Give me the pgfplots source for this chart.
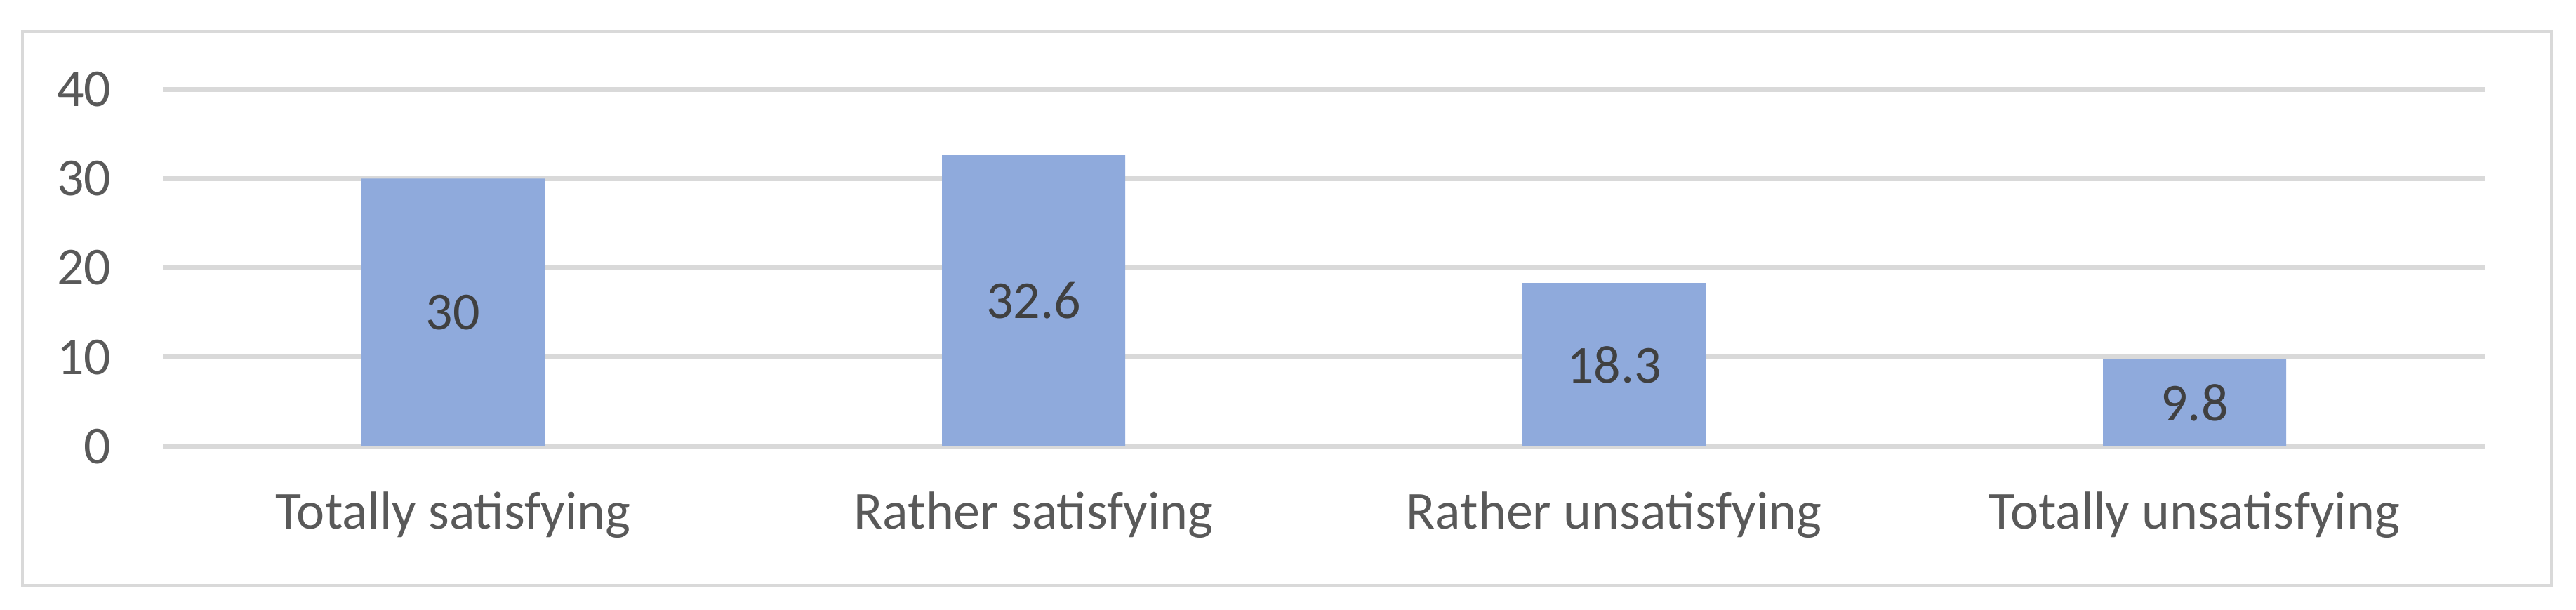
\documentclass[border=0pt]{standalone}
\usepackage{fontspec}
\setmainfont{Carlito}
\usepackage{pgfplots}
\pgfplotsset{compat=1.18}
\definecolor{barblue}{HTML}{8FAADC}
\definecolor{gridgray}{HTML}{D9D9D9}
\definecolor{ticktext}{HTML}{595959}
\definecolor{labeltext}{HTML}{404040}
\begin{document}
\begin{tikzpicture}[font=\fontsize{15.2}{18}\selectfont]
\path[use as bounding box] (0,0) rectangle (734pt,173.8pt);
\draw[gridgray, line width=0.9pt] (6.4pt,7.0pt) rectangle (727pt,164.8pt);
\begin{axis}[
  at={(46.4pt,46.6pt)}, anchor=south west,
  scale only axis, width=661.6pt, height=101.8pt,
  xmin=-0.5, xmax=3.5, ymin=0, ymax=40,
  ytick={0,10,20,30,40},
  xtick={0,1,2,3},
  xticklabels={Totally satisfying, Rather satisfying, Rather unsatisfying, Totally unsatisfying},
  axis line style={draw=none},
  major tick length=0pt,
  tick style={draw=none},
  ymajorgrids, grid style={gridgray, line width=1.4pt},
  /pgf/number format/assume math mode=true,
  yticklabel style={anchor=east, inner sep=0pt, xshift=-14.5pt, text=ticktext},
  xticklabel style={anchor=base, inner sep=0pt, yshift=-23.6pt, text=ticktext},
  ybar, bar width=52.2pt,
  clip=false,
]
\addplot[fill=barblue, draw=none,
  nodes near coords,
  point meta=explicit symbolic,
  visualization depends on=rawy\as\rawy,
  every node near coord/.append style={anchor=center, text=labeltext, shift={(axis direction cs:0,-\rawy/2)}},
] table[meta=label] {
x y label
0 30 30
1 32.6 32.6
2 18.3 18.3
3 9.8 9.8
};
\end{axis}
\end{tikzpicture}
\end{document}
